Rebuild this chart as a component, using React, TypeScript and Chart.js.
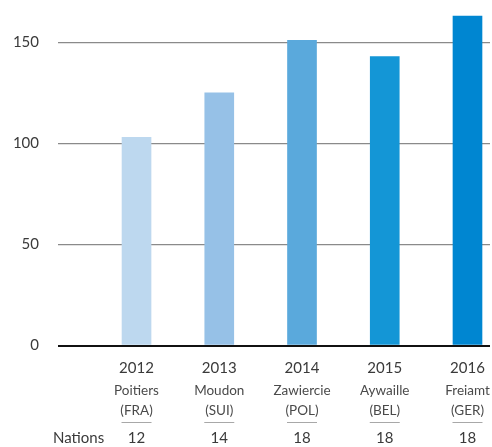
import React, { useEffect, useRef } from "react";
import { Chart, registerables } from "chart.js";

Chart.register(...registerables);

const years = ["2012", "2013", "2014", "2015", "2016"];
const cities = ["Poitiers", "Moudon", "Zawiercie", "Aywaille", "Freiamt"];
const countries = ["(FRA)", "(SUI)", "(POL)", "(BEL)", "(GER)"];
const nations = ["12", "14", "18", "18", "18"];
const values = [103, 125, 151, 143, 163];
const barColors = ["#bdd8ef", "#96c1e7", "#5aa9dc", "#1496d6", "#0086d1"];
const yTicks = [0, 50, 100, 150];

const FONT = "Lato, 'Open Sans', sans-serif";

const labelPlugin = {
  id: "customLabels",
  afterDraw(chart: any) {
    const ctx = chart.ctx;
    const xs = chart.scales.x;
    ctx.save();
    ctx.textAlign = "center";
    ctx.textBaseline = "alphabetic";
    years.forEach((yr, i) => {
      const x = xs.getPixelForValue(i);
      ctx.fillStyle = "#3a3a3a";
      ctx.font = `15px ${FONT}`;
      ctx.fillText(yr, x, 373);
      ctx.fillStyle = "#4a4a4a";
      ctx.font = `13.5px ${FONT}`;
      ctx.fillText(cities[i], x, 395);
      ctx.fillText(countries[i], x, 415);
      ctx.strokeStyle = "#a8a8a8";
      ctx.lineWidth = 1;
      ctx.beginPath();
      ctx.moveTo(x - 15, 422.5);
      ctx.lineTo(x + 15, 422.5);
      ctx.stroke();
      ctx.fillStyle = "#3a3a3a";
      ctx.font = `15px ${FONT}`;
      ctx.fillText(nations[i], x, 443);
    });
    ctx.textAlign = "left";
    ctx.fillStyle = "#3a3a3a";
    ctx.font = `15px ${FONT}`;
    ctx.fillText("Nations", 53, 443);
    ctx.restore();
  },
};

export default function App() {
  const ref = useRef<HTMLCanvasElement>(null);
  useEffect(() => {
    if (!ref.current) return;
    const chart = new Chart(ref.current, {
      type: "bar",
      data: {
        datasets: [
          {
            data: values.map((v, i) => ({ x: i, y: v })),
            backgroundColor: barColors,
            barThickness: 29,
            borderWidth: 0,
          },
        ],
      },
      options: {
        animation: false,
        responsive: true,
        maintainAspectRatio: false,
        layout: { padding: { top: 2, right: 2, bottom: 101.5, left: 0 } },
        plugins: { legend: { display: false }, tooltip: { enabled: false } },
        scales: {
          x: {
            type: "linear",
            display: false,
            offset: false,
            min: -0.949,
            max: 4.272,
          },
          y: {
            min: 0,
            max: 170,
            border: { display: false },
            afterBuildTicks: (scale: any) => {
              scale.ticks = yTicks.map((v) => ({ value: v }));
            },
            afterFit: (scale: any) => {
              scale.width = 58;
              scale.paddingTop = 0;
              scale.paddingBottom = 0;
            },
            grid: {
              drawTicks: false,
              color: (c: any) => (c.tick && c.tick.value === 0 ? "#111111" : "#8a8a8a"),
              lineWidth: (c: any) => (c.tick && c.tick.value === 0 ? 2 : 1.2),
            },
            ticks: {
              padding: 19,
              color: "#3a3a3a",
              font: { family: FONT, size: 15 },
            },
          },
        },
      },
      plugins: [labelPlugin],
    });
    return () => chart.destroy();
  }, []);
  return (
    <div style={{ position: "fixed", left: 0, top: 0, width: 492, height: 447, background: "#fff" }}>
      <canvas ref={ref} />
    </div>
  );
}
